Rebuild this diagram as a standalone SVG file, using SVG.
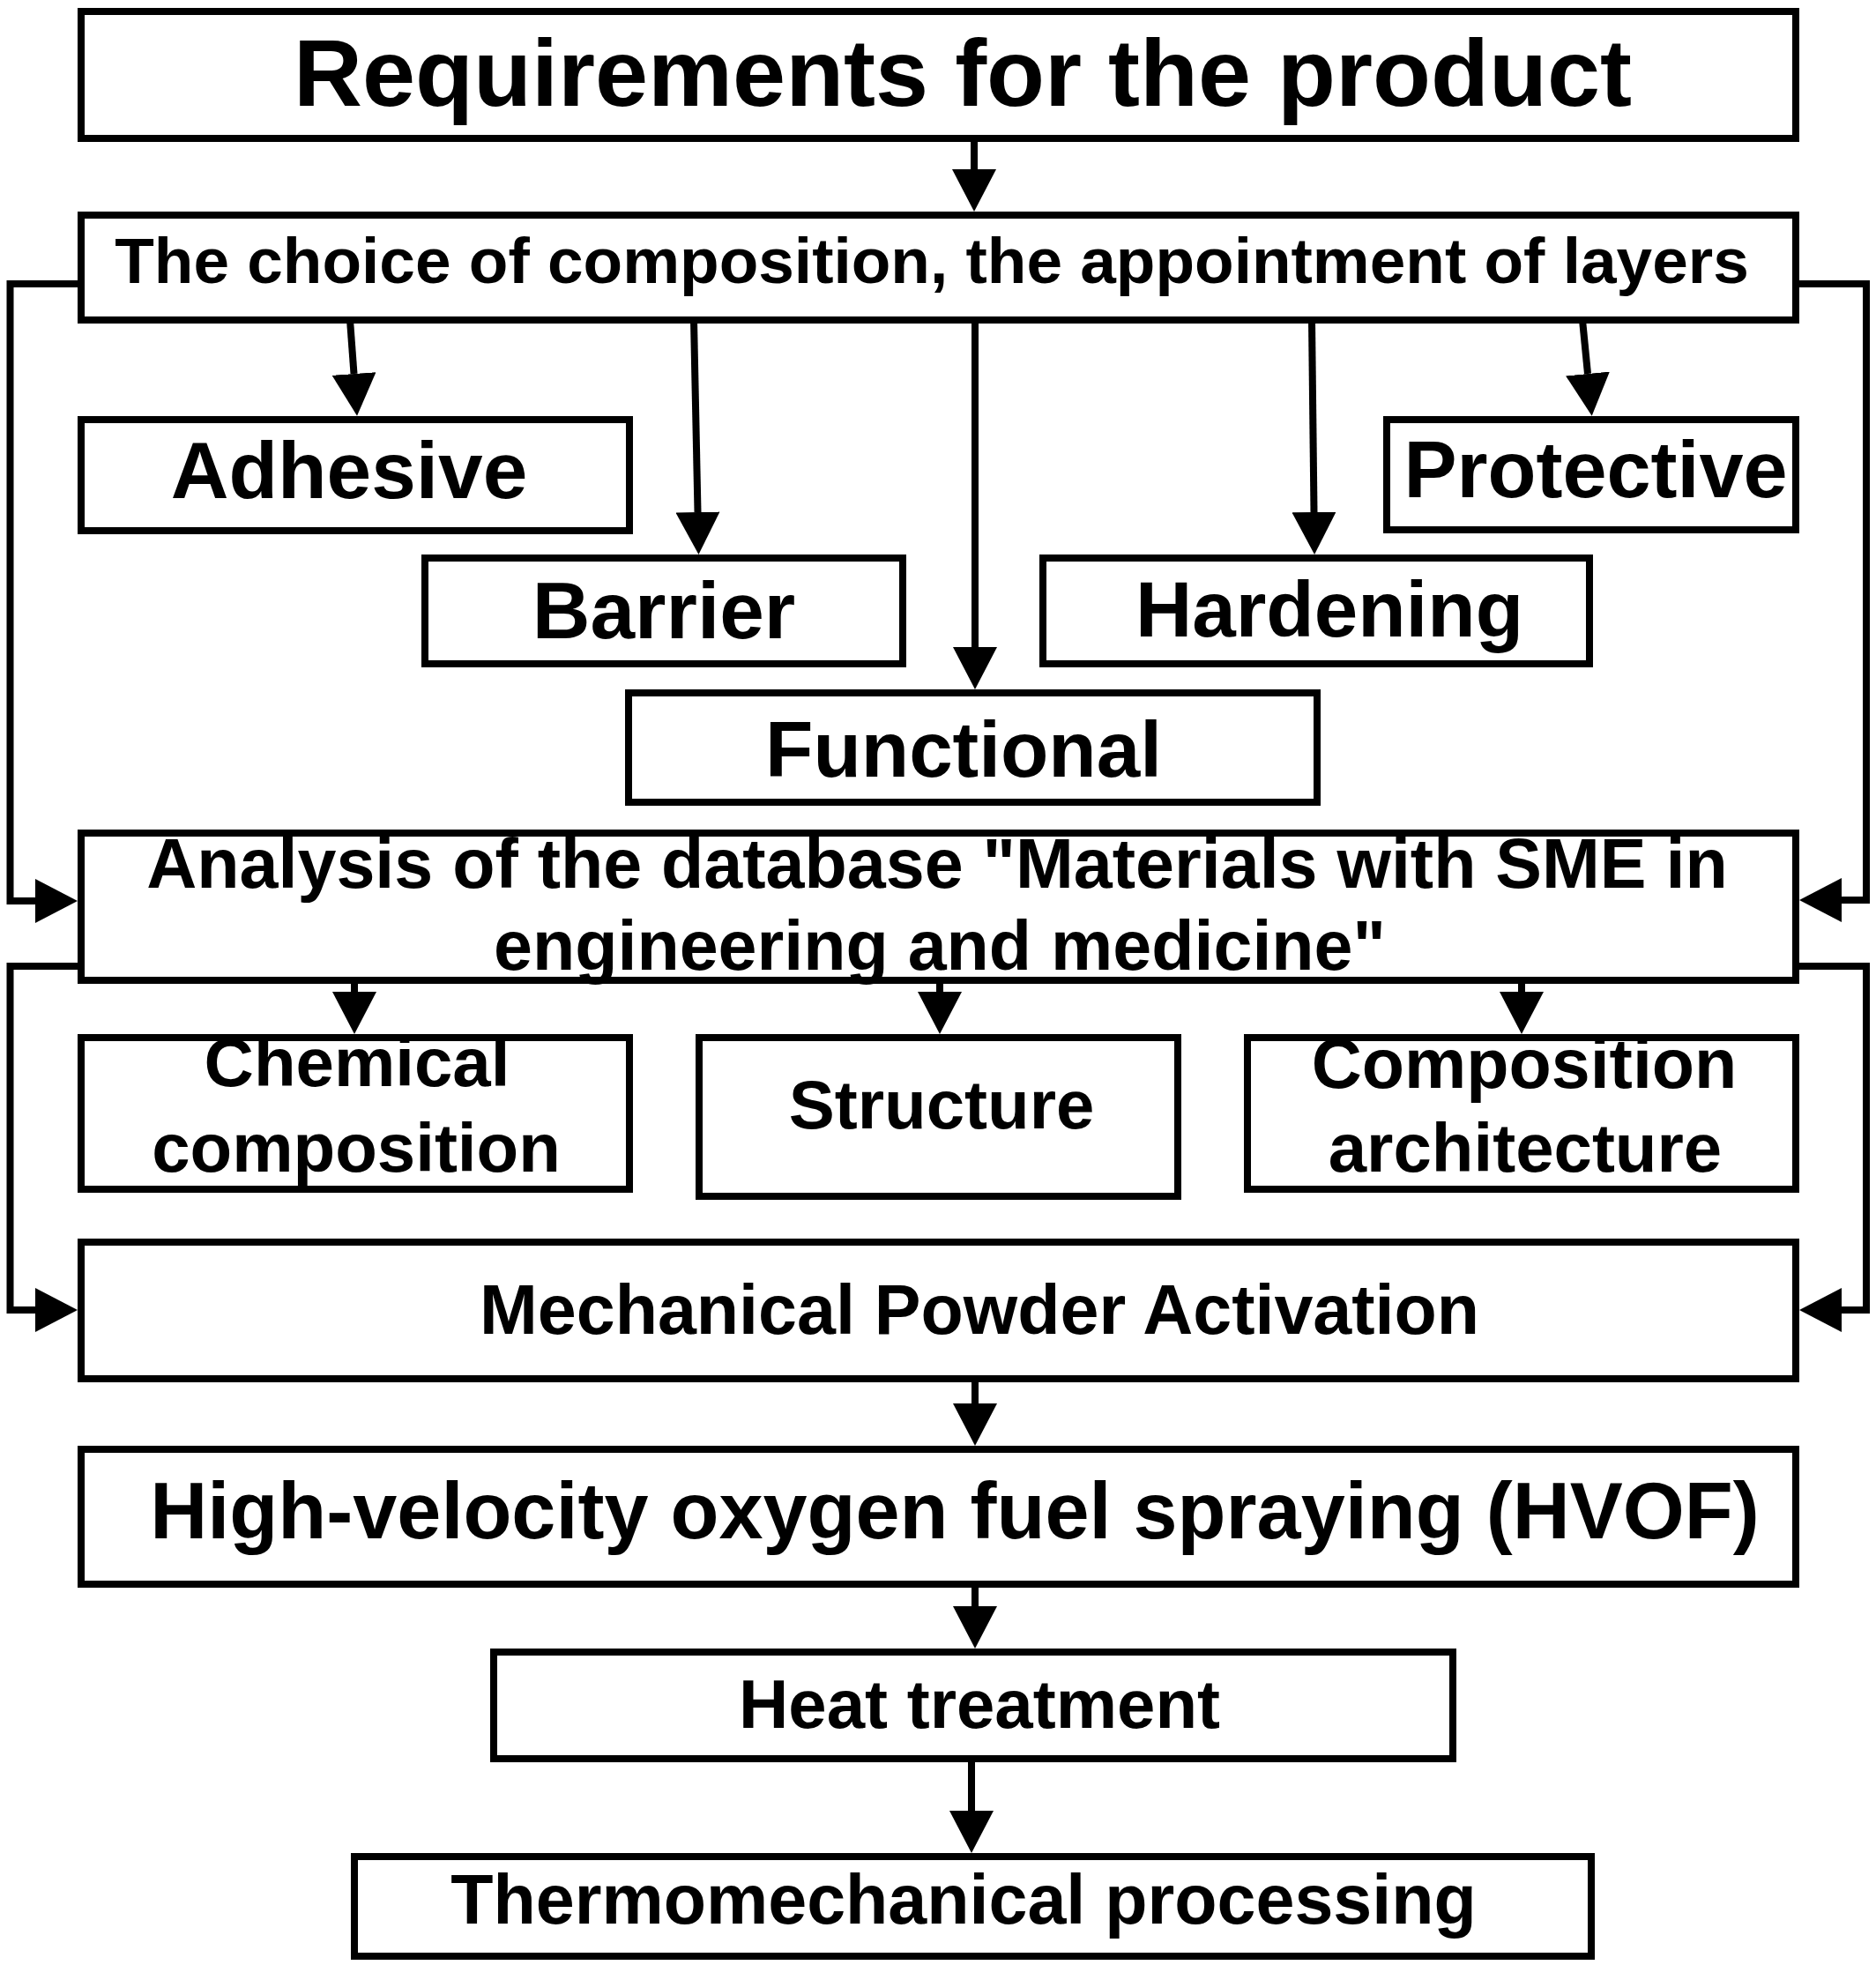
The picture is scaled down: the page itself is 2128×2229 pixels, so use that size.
<svg xmlns="http://www.w3.org/2000/svg" width="2128" height="2229" viewBox="0 0 2128 2229">
<style>
.box{fill:#fff;stroke:#000;stroke-width:8}
.t{font-family:"Liberation Sans",Arial,sans-serif;font-weight:bold;fill:#000;text-anchor:middle}
.c{fill:none;stroke:#000;stroke-width:8;stroke-linejoin:miter}
</style>
<defs>
<marker id="ah" markerUnits="userSpaceOnUse" viewBox="0 0 48 50" refX="0" refY="25" markerWidth="48" markerHeight="50" orient="auto">
<path d="M0,0 L48,25 L0,50 Z" fill="#000"/>
</marker>
</defs>
<rect width="2128" height="2229" fill="#fff"/>
<g id="connectors">
<path class="c" d="M1105,157 L1105,192" marker-end="url(#ah)"/>
<path class="c" d="M397,363 L401.5,424" marker-end="url(#ah)"/>
<path class="c" d="M787,363 L791.5,581" marker-end="url(#ah)"/>
<path class="c" d="M1106,363 L1106,734" marker-end="url(#ah)"/>
<path class="c" d="M1488,363 L1490.5,581" marker-end="url(#ah)"/>
<path class="c" d="M1795,363 L1801,424" marker-end="url(#ah)"/>
<path class="c" d="M92,322 L11.5,322 L11.5,1022 L40,1022" marker-end="url(#ah)"/>
<path class="c" d="M2037,322 L2117,322 L2117,1021 L2089,1021" marker-end="url(#ah)"/>
<path class="c" d="M92,1096 L11.5,1096 L11.5,1486 L40,1486" marker-end="url(#ah)"/>
<path class="c" d="M2037,1096 L2117,1096 L2117,1486 L2089,1486" marker-end="url(#ah)"/>
<path class="c" d="M402,1112 L402,1125" marker-end="url(#ah)"/>
<path class="c" d="M1066,1112 L1066,1125" marker-end="url(#ah)"/>
<path class="c" d="M1726,1112 L1726,1125" marker-end="url(#ah)"/>
<path class="c" d="M1106,1564 L1106,1592" marker-end="url(#ah)"/>
<path class="c" d="M1106,1797 L1106,1822" marker-end="url(#ah)"/>
<path class="c" d="M1102,1995 L1102,2054" marker-end="url(#ah)"/>
</g>
<g id="requirements">
<rect class="box" x="92" y="13" width="1945" height="144"/>
<text class="t" x="1092" y="120" font-size="108">Requirements for the product</text>
</g>
<g id="choice">
<rect class="box" x="92" y="244" width="1945" height="119"/>
<text class="t" x="1057" y="321" font-size="73">The choice of composition, the appointment of layers</text>
</g>
<g id="adhesive">
<rect class="box" x="92" y="476" width="622" height="126"/>
<text class="t" x="396" y="565" font-size="91">Adhesive</text>
</g>
<g id="barrier">
<rect class="box" x="482" y="633" width="542" height="120"/>
<text class="t" x="753" y="724" font-size="91">Barrier</text>
</g>
<g id="functional">
<rect class="box" x="713" y="786" width="781" height="124"/>
<text class="t" x="1093" y="881" font-size="89">Functional</text>
</g>
<g id="hardening">
<rect class="box" x="1183" y="633" width="620" height="120"/>
<text class="t" x="1508" y="722" font-size="89">Hardening</text>
</g>
<g id="protective">
<rect class="box" x="1573" y="476" width="464" height="125"/>
<text class="t" x="1810" y="564" font-size="90">Protective</text>
</g>
<g id="analysis">
<rect class="box" x="92" y="945" width="1945" height="167"/>
<text class="t" x="1063" y="1007" font-size="79">Analysis of the database "Materials with SME in</text>
<text class="t" x="1066" y="1100" font-size="79">engineering and medicine"</text>
</g>
<g id="chemical">
<rect class="box" x="92" y="1177" width="622" height="172"/>
<text class="t" x="405" y="1232" font-size="78">Chemical</text>
<text class="t" x="404" y="1329" font-size="78">composition</text>
</g>
<g id="structure">
<rect class="box" x="793" y="1177" width="543" height="180"/>
<text class="t" x="1068" y="1280" font-size="78">Structure</text>
</g>
<g id="composition-architecture">
<rect class="box" x="1415" y="1177" width="622" height="172"/>
<text class="t" x="1729" y="1234" font-size="79">Composition</text>
<text class="t" x="1730" y="1329" font-size="78">architecture</text>
</g>
<g id="mechanical">
<rect class="box" x="92" y="1409" width="1945" height="155"/>
<text class="t" x="1111" y="1513" font-size="79">Mechanical Powder Activation</text>
</g>
<g id="hvof">
<rect class="box" x="92" y="1644" width="1945" height="153"/>
<text class="t" x="1083" y="1745" font-size="90">High-velocity oxygen fuel spraying (HVOF)</text>
</g>
<g id="heat">
<rect class="box" x="560" y="1874" width="1088" height="121"/>
<text class="t" x="1111" y="1960" font-size="78">Heat treatment</text>
</g>
<g id="thermo">
<rect class="box" x="402" y="2106" width="1403" height="113"/>
<text class="t" x="1093" y="2182" font-size="79">Thermomechanical processing</text>
</g>
</svg>
